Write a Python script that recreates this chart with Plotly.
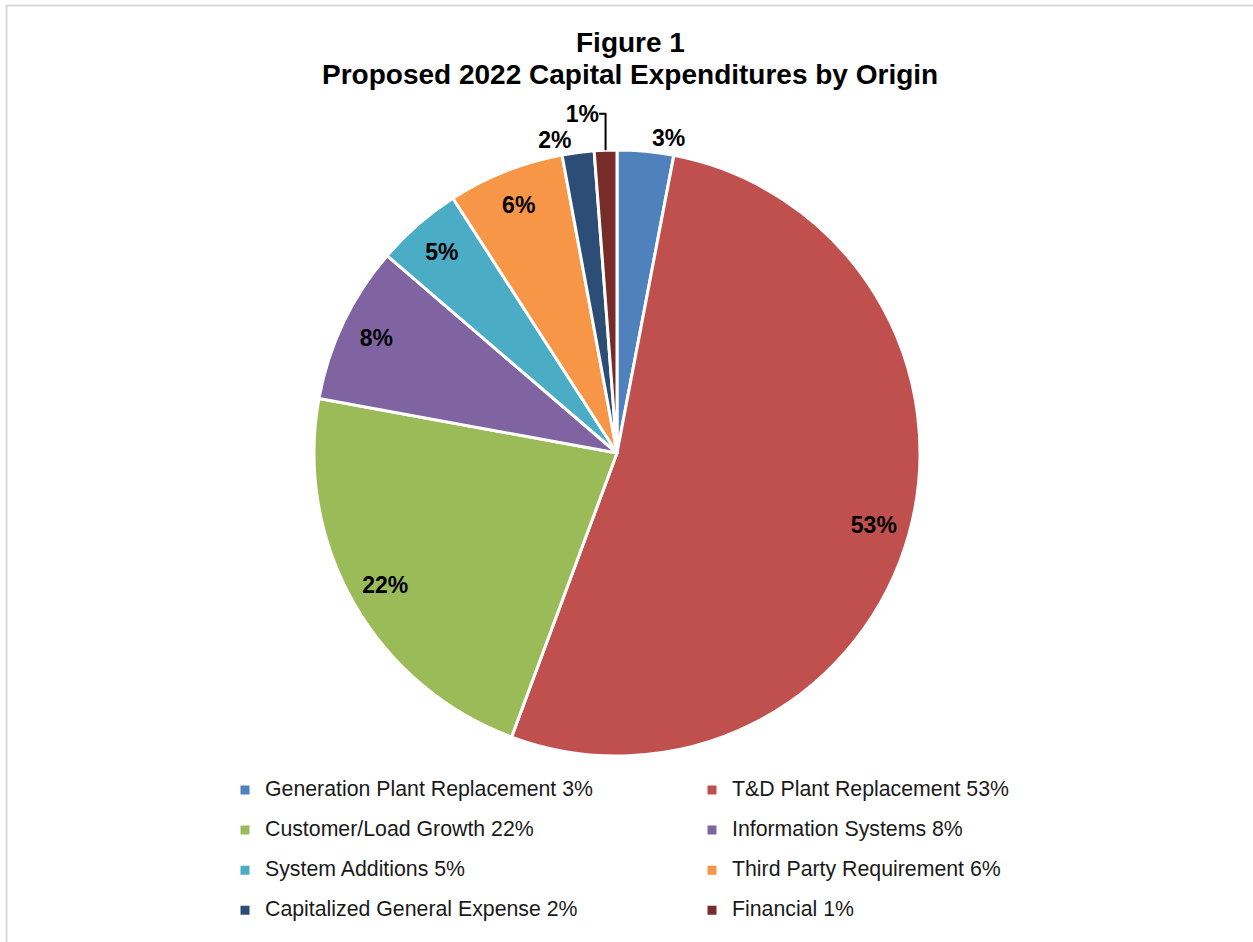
import plotly.graph_objects as go

# Proposed 2022 capital expenditures, share by origin (percent of total)
categories = [
    "Generation Plant Replacement",
    "T&D Plant Replacement",
    "Customer/Load Growth",
    "Information Systems",
    "System Additions",
    "Third Party Requirement",
    "Capitalized General Expense",
    "Financial",
]
shares = [3.0, 52.6, 22.2, 8.4, 4.6, 6.2, 1.7, 1.2]
colors = ["#4F81BD", "#C0504D", "#9BBB59", "#8064A2",
          "#4BACC6", "#F79646", "#2C4D75", "#772C2A"]
label_positions = ["outside", "inside", "inside", "inside",
                   "inside", "inside", "outside", "outside"]

W, H = 1253, 942
FONT = "Arial, 'Liberation Sans', sans-serif"

total = sum(shares)
legend_names = [
    f"<span style='font-size:21.3px;baseline-shift:5px'>{c} {round(v / total * 100)}%</span>"
    for c, v in zip(categories, shares)
]

# pie centre and radius in pixels
cx, cy, r = 617, 453, 303
domain = dict(
    x=[(cx - r) / W, (cx + r) / W],
    y=[(H - cy - r) / H, (H - cy + r) / H],
)

fig = go.Figure()

# the filled slices
fig.add_trace(
    go.Pie(
        labels=legend_names,
        values=shares,
        sort=False,
        direction="clockwise",
        rotation=0,
        marker=dict(colors=colors, line=dict(color="white", width=3)),
        textinfo="none",
        domain=domain,
        hoverinfo="label+percent",
    )
)

# a transparent outer ring carrying the percentage labels near the rim
fig.add_trace(
    go.Pie(
        labels=legend_names,
        values=shares,
        sort=False,
        direction="clockwise",
        rotation=0,
        hole=0.76,
        marker=dict(colors=["rgba(0,0,0,0)"] * len(shares),
                    line=dict(color="rgba(0,0,0,0)", width=0)),
        texttemplate="%{percent:.0%}",
        textposition=label_positions,
        insidetextorientation="horizontal",
        textfont=dict(family=FONT, size=23, color="black", weight="bold"),
        domain=domain,
        showlegend=False,
        hoverinfo="skip",
    )
)

fig.update_layout(
    width=W,
    height=H,
    margin=dict(l=0, r=0, t=0, b=0),
    paper_bgcolor="white",
    plot_bgcolor="white",
    annotations=[
        dict(text="Figure 1", x=630 / W, y=1 - 43 / H,
             xref="paper", yref="paper", xanchor="center", yanchor="middle",
             showarrow=False,
             font=dict(family=FONT, size=28, color="black", weight="bold")),
        dict(text="Proposed 2022 Capital Expenditures by Origin",
             x=630 / W, y=1 - 75 / H,
             xref="paper", yref="paper", xanchor="center", yanchor="middle",
             showarrow=False,
             font=dict(family=FONT, size=28, color="black", weight="bold")),
    ],
    showlegend=True,
    legend=dict(
        orientation="h",
        x=225 / W,
        xanchor="left",
        y=(H - 765) / H,
        yanchor="top",
        entrywidth=422,
        entrywidthmode="pixels",
        font=dict(family=FONT, size=28.5, color="#1A1A1A"),
        traceorder="normal",
        bgcolor="rgba(0,0,0,0)",
    ),
    shapes=[
        dict(
            type="rect", xref="paper", yref="paper",
            x0=6.5 / W, x1=1.05, y0=-0.05, y1=1 - 5.5 / H,
            line=dict(color="#D9D9D9", width=2),
            fillcolor="rgba(0,0,0,0)",
            layer="below",
        )
    ],
)

fig.write_html("out.html")
